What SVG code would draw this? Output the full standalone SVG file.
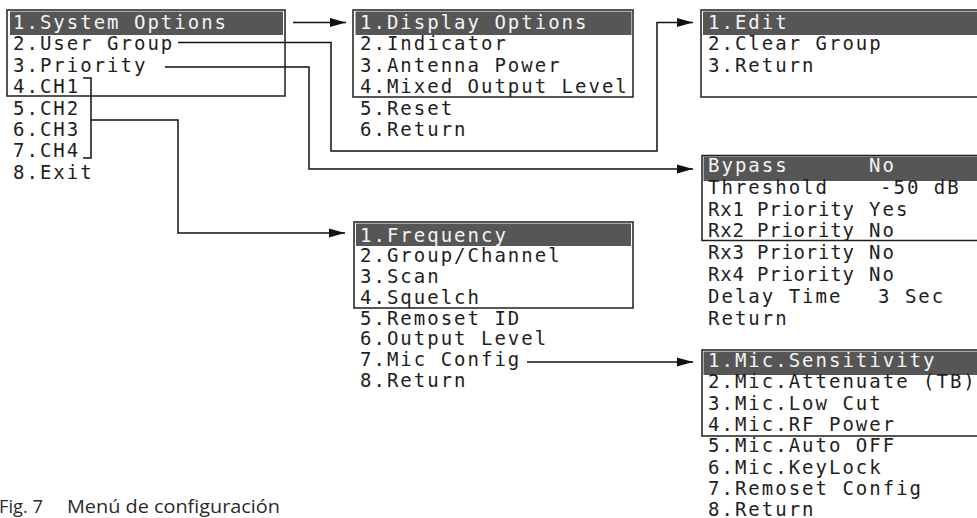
<svg xmlns="http://www.w3.org/2000/svg" width="977" height="518" viewBox="0 0 977 518">
<style>
.bg{fill:#ffffff}
.box{fill:none;stroke:#1e1e1e;stroke-width:1.5}
.hl{fill:#565656}
.t{font-family:"DejaVu Sans Mono","Liberation Mono",monospace;font-size:19px;letter-spacing:2px;fill:#1e1e1e}
.w{fill:#f4f4f4}
.ln{fill:none;stroke:#111;stroke-width:1.5}
.cap{font-family:"Open Sans","Noto Sans","Liberation Sans",sans-serif;font-size:18.5px;fill:#2a2a2a}
</style>
<defs>
<marker id="ah" markerUnits="userSpaceOnUse" markerWidth="17" markerHeight="10" refX="16" refY="5" orient="auto">
<path d="M0,0.5 L16,5 L0,9.5 z" fill="#111"/>
</marker>
</defs>
<rect class="bg" x="0" y="0" width="977" height="518"/>

<g id="connectors">
<path class="ln" d="M293,22.5 H346" marker-end="url(#ah)"/>
<path class="ln" d="M178,42.5 H331 V151 H657 V22.5 H693" marker-end="url(#ah)"/>
<path class="ln" d="M165,67 H309 V169 H693" marker-end="url(#ah)"/>
<path class="ln" d="M83,78 H91 V158 H83"/>
<path class="ln" d="M91,120 H178 V233 H345" marker-end="url(#ah)"/>
<path class="ln" d="M527,362 H693" marker-end="url(#ah)"/>
</g>

<g id="main-menu">
<rect class="hl" x="10" y="11.5" width="273" height="23.5"/>
<rect class="box" x="7" y="10" width="278" height="86"/>
<text class="t w" x="13" y="28.5">1.System Options</text>
<text class="t" x="13" y="50">2.User Group</text>
<text class="t" x="13" y="71.5">3.Priority</text>
<text class="t" x="13" y="93">4.CH1</text>
<text class="t" x="13" y="114.5">5.CH2</text>
<text class="t" x="13" y="136">6.CH3</text>
<text class="t" x="13" y="157">7.CH4</text>
<text class="t" x="13" y="178.5">8.Exit</text>
</g>

<g id="system-options">
<rect class="hl" x="355.5" y="11.5" width="276" height="23.5"/>
<rect class="box" x="353" y="10" width="280" height="87"/>
<text class="t w" x="360" y="28.5">1.Display Options</text>
<text class="t" x="360" y="50">2.Indicator</text>
<text class="t" x="360" y="71.5">3.Antenna Power</text>
<text class="t" x="360" y="93">4.Mixed Output Level</text>
<text class="t" x="360" y="114.5">5.Reset</text>
<text class="t" x="360" y="136">6.Return</text>
</g>

<g id="user-group">
<rect class="hl" x="703" y="11.5" width="280" height="23.5"/>
<rect class="box" x="701" y="10" width="290" height="87"/>
<text class="t w" x="708" y="28.5">1.Edit</text>
<text class="t" x="708" y="50">2.Clear Group</text>
<text class="t" x="708" y="71.5">3.Return</text>
</g>

<g id="priority">
<rect class="hl" x="703.5" y="156.5" width="280" height="24.5"/>
<rect class="box" x="702" y="155.5" width="290" height="85"/>
<text class="t w" x="708" y="172">Bypass</text>
<text class="t w" x="869" y="172">No</text>
<text class="t" x="708" y="193.8">Threshold</text>
<text class="t" x="880" y="193.8">-50 dB</text>
<text class="t" x="708" y="215.6" textLength="148" lengthAdjust="spacing">Rx1 Priority</text>
<text class="t" x="869" y="215.6">Yes</text>
<text class="t" x="708" y="237.4" textLength="148" lengthAdjust="spacing">Rx2 Priority</text>
<text class="t" x="869" y="237.4">No</text>
<text class="t" x="708" y="259.2" textLength="148" lengthAdjust="spacing">Rx3 Priority</text>
<text class="t" x="869" y="259.2">No</text>
<text class="t" x="708" y="281" textLength="148" lengthAdjust="spacing">Rx4 Priority</text>
<text class="t" x="869" y="281">No</text>
<text class="t" x="708" y="302.8">Delay Time</text>
<text class="t" x="878" y="302.8">3 Sec</text>
<text class="t" x="708" y="324.6">Return</text>
</g>

<g id="channel-menu">
<rect class="hl" x="356" y="223.5" width="275" height="22.5"/>
<rect class="box" x="354" y="222" width="279" height="86"/>
<text class="t w" x="360" y="241.7">1.Frequency</text>
<text class="t" x="360" y="262.4">2.Group/Channel</text>
<text class="t" x="360" y="283.1">3.Scan</text>
<text class="t" x="360" y="303.8">4.Squelch</text>
<text class="t" x="360" y="324.5">5.Remoset ID</text>
<text class="t" x="360" y="345.2">6.Output Level</text>
<text class="t" x="360" y="365.9">7.Mic Config</text>
<text class="t" x="360" y="386.6">8.Return</text>
</g>

<g id="mic-config">
<rect class="hl" x="703.5" y="351.5" width="280" height="23.5"/>
<rect class="box" x="702" y="350" width="290" height="86"/>
<text class="t w" x="708" y="366.7">1.Mic.Sensitivity</text>
<text class="t" x="708" y="388.1">2.Mic.Attenuate (TB)</text>
<text class="t" x="708" y="409.5">3.Mic.Low Cut</text>
<text class="t" x="708" y="430.9">4.Mic.RF Power</text>
<text class="t" x="708" y="452.3">5.Mic.Auto OFF</text>
<text class="t" x="708" y="473.7">6.Mic.KeyLock</text>
<text class="t" x="708" y="495.1">7.Remoset Config</text>
<text class="t" x="708" y="515.5">8.Return</text>
</g>

<g id="caption">
<text class="cap" x="-1" y="513" textLength="44" lengthAdjust="spacingAndGlyphs">Fig. 7</text>
<text class="cap" x="67" y="513" textLength="213" lengthAdjust="spacingAndGlyphs">Menú de configuración</text>
</g>
</svg>
